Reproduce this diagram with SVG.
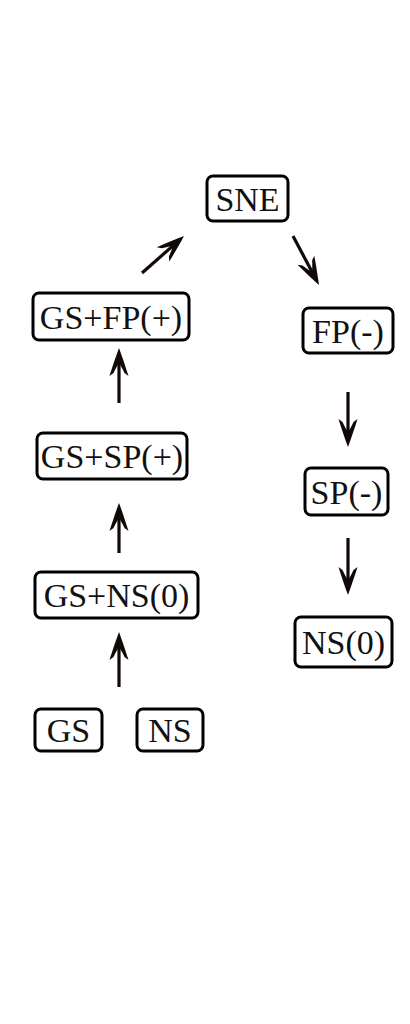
<svg xmlns="http://www.w3.org/2000/svg" width="410" height="1024" viewBox="0 0 410 1024">
<style>
.box{fill:#fff;stroke:#000;stroke-width:3}
.lbl{font-family:"Liberation Serif","DejaVu Serif",serif;font-size:34px;fill:#111;text-anchor:middle}
.con{stroke:#110808;stroke-width:3.2;fill:none}
</style>
<defs>
<marker id="ah" markerUnits="userSpaceOnUse" viewBox="0 -11 32 22" markerWidth="32" markerHeight="22" refX="18" refY="0" orient="auto">
<path d="M30,0 C22,-3 10,-7 2,-9.5 L5,-5.5 C10,-3 13,-1.5 15,0 C13,1.5 10,3 5,5.5 L2,9.5 C10,7 22,3 30,0 Z" fill="#110808"/>
</marker>
</defs>
<rect width="410" height="1024" fill="#fff"/>
<g id="connectors">
<line class="con" x1="119" y1="687" x2="119" y2="644" marker-end="url(#ah)"/>
<line class="con" x1="119" y1="553" x2="119" y2="515" marker-end="url(#ah)"/>
<line class="con" x1="119" y1="403" x2="119" y2="360" marker-end="url(#ah)"/>
<line class="con" x1="142" y1="273" x2="175" y2="243.9" marker-end="url(#ah)"/>
<line class="con" x1="293" y1="236" x2="313.4" y2="274.4" marker-end="url(#ah)"/>
<line class="con" x1="348" y1="392" x2="348" y2="435" marker-end="url(#ah)"/>
<line class="con" x1="348" y1="538" x2="348" y2="583" marker-end="url(#ah)"/>
</g>
<g id="sne"><rect class="box" x="207" y="176" width="81" height="45" rx="6"/><text class="lbl" x="247.5" y="210.5">SNE</text></g>
<g id="gsfp"><rect class="box" x="33" y="293" width="156" height="47" rx="6"/><text class="lbl" x="111" y="328.5">GS+FP(+)</text></g>
<g id="gssp"><rect class="box" x="37" y="433" width="150" height="46" rx="6"/><text class="lbl" x="112" y="468">GS+SP(+)</text></g>
<g id="gsns"><rect class="box" x="35" y="572" width="163" height="46" rx="6"/><text class="lbl" x="116.5" y="607">GS+NS(0)</text></g>
<g id="gs"><rect class="box" x="35" y="709" width="67" height="42" rx="6"/><text class="lbl" x="68.5" y="742">GS</text></g>
<g id="ns"><rect class="box" x="137" y="709" width="66" height="42" rx="6"/><text class="lbl" x="170" y="742">NS</text></g>
<g id="fp"><rect class="box" x="303" y="308" width="90" height="45" rx="6"/><text class="lbl" x="348" y="342.5">FP(-)</text></g>
<g id="sp"><rect class="box" x="305" y="468" width="83" height="47" rx="6"/><text class="lbl" x="346.5" y="503.5">SP(-)</text></g>
<g id="ns0"><rect class="box" x="295" y="617" width="97" height="50" rx="6"/><text class="lbl" x="343.5" y="654">NS(0)</text></g>
</svg>
